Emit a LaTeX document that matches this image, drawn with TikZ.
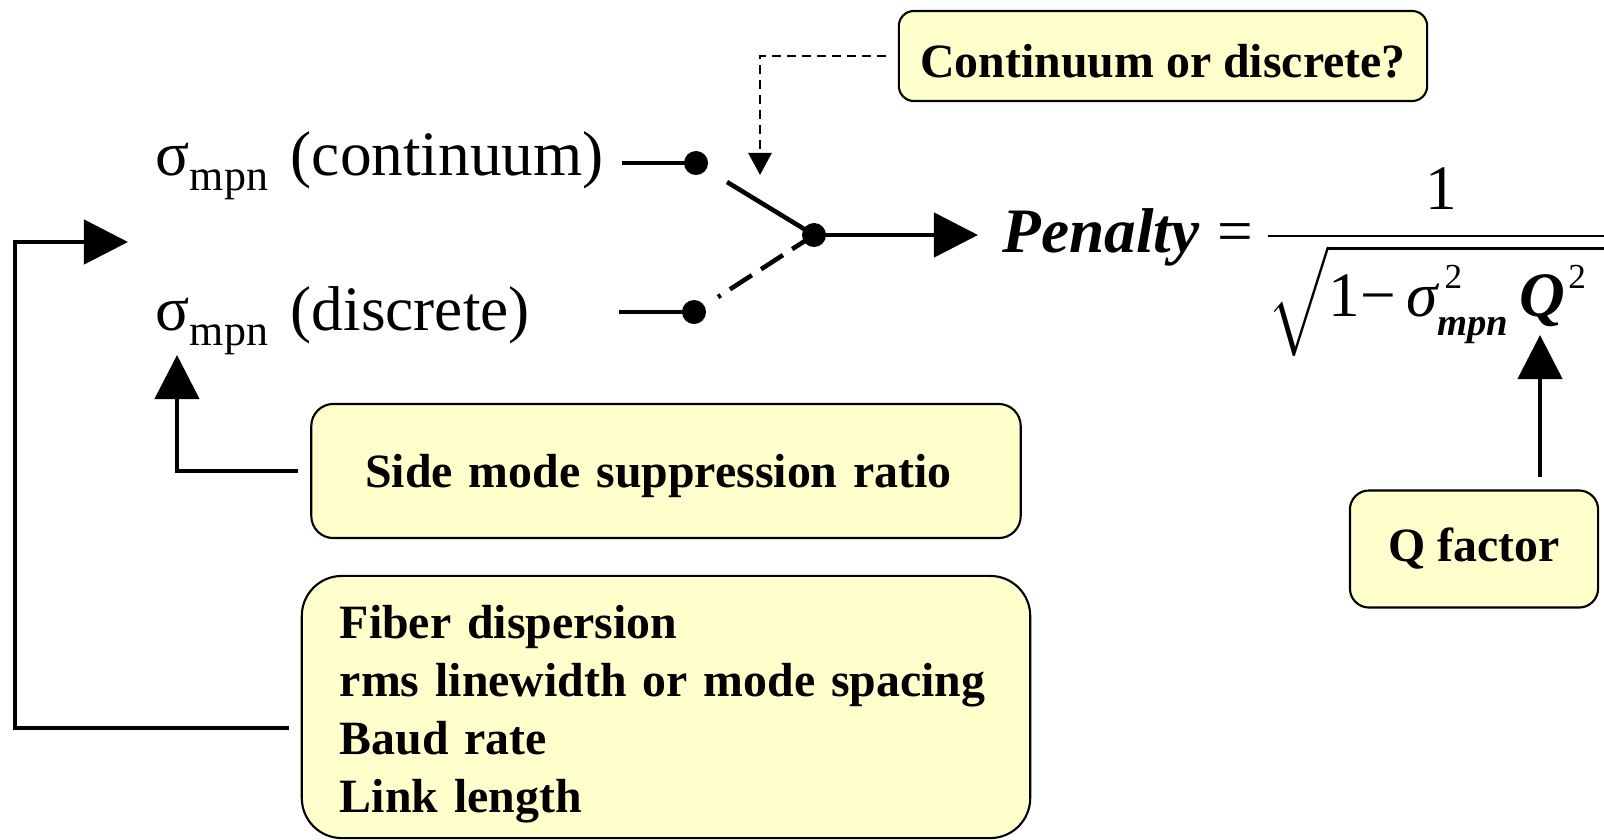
\RequirePackage{fix-cm}
\documentclass[tikz,border=0pt]{standalone}
\usepackage{amsmath}
\usepackage{fontspec}
\setmainfont{Liberation Serif}
\usepackage{tikz}
\usetikzlibrary{arrows.meta}
\usepackage{xcolor}
\definecolor{notefill}{HTML}{FFFFCC}

\begin{document}
\begin{tikzpicture}[x=0.01cm,y=-0.01cm,
        infobox/.style={draw=black, fill=notefill, line width=0.6pt, inner sep=0pt, outer sep=0.13cm,
            font=\fontsize{13.6}{16.5}\selectfont\bfseries},
        sigtext/.style={anchor=base west, inner sep=0pt, font=\fontsize{18}{22}\selectfont},
        thickline/.style={line width=1.3pt},
        bigarrow/.style={thickline, -{Triangle[length=0.44cm,width=0.44cm]}},
        dashline/.style={line width=0.7pt, dash pattern=on 0.09cm off 0.06cm, -{Triangle[length=0.22cm,width=0.23cm]}},
        contact/.style={circle, fill=black, inner sep=0pt, minimum size=0.24cm}]
        \useasboundingbox (0,0) rectangle (1604,839);
        % mpn labels
        \node[sigtext] (sigc) at (155,175) {σ\raisebox{-0.15cm}{\fontsize{12.5}{14}\selectfont mpn}\kern2pt\ (continuum)};
        \node[sigtext] (sigd) at (155,330) {σ\raisebox{-0.15cm}{\fontsize{12.5}{14}\selectfont mpn}\kern2pt\ (discrete)};

        % switch
        \node[contact] (ctop) at (696,163) {};
        \node[contact] (cbot) at (694,312) {};
        \node[contact] (piv) at (814,235) {};
        \coordinate (levtop) at (727,182);
        \coordinate (levbot) at (718,297);
        \draw[thickline] (ctop.center) -- ++(-74,0);
        \draw[thickline] (cbot.center) -- ++(-75,0);
        \draw[thickline] (levtop) -- (piv.center);
        \draw[thickline, dash pattern=on 0.26cm off 0.11cm] (piv.center) -- (levbot);

        % question box
        \node[infobox, minimum width=5.28cm, minimum height=0.9cm, rounded corners=0.15cm,
            text height=0.42cm, text depth=0pt] (qsel) at (1163,56) {Continuum or discrete?};
        \coordinate (swtop) at (760,175);
        \draw[dashline] (qsel.west) -| (swtop);

        % penalty formula
        \node[anchor=base west, inner sep=0pt, font=\fontsize{18}{22}\selectfont] (pen) at (1002,252)
            {$\text{\bfseries\itshape Penalty}\mkern5mu\text{=}\mkern3mu\dfrac{\text{1}}{\sqrt{\text{1−\,\itshape σ\rlap{\kern2pt\raisebox{0.45em}{\fontsize{10}{10}\selectfont\upshape 2}}\raisebox{-0.3em}{\fontsize{11}{11}\selectfont\bfseries mpn}\,\bfseries Q\raisebox{0.45em}{\fontsize{10}{10}\selectfont\mdseries\upshape\kern1pt 2}\kern8pt}}}$};
        \draw[bigarrow, shorten >=0.24cm] (piv.center) -- (piv -| pen.west);

        % Q factor
        \node[infobox, minimum width=2.48cm, minimum height=1.17cm, rounded corners=0.19cm] (qf) at (1474,549) {Q factor};
        \coordinate (qtip) at (1540,335);
        \draw[bigarrow] (qtip |- qf.north) -- (qtip);

        % side mode suppression
        \node[infobox, minimum width=7.09cm, minimum height=1.34cm, rounded corners=0.22cm,
            text width=6.01cm, align=left, text height=0.32cm, text depth=0pt] (smsr) at (666,471) {Side mode suppression ratio};
        \coordinate (smsrtip) at (177,355);
        \draw[bigarrow] (smsr.west) -| (smsrtip);

        % link parameters
        \node[infobox, minimum width=7.28cm, minimum height=2.62cm, rounded corners=0.4cm,
            text width=6.52cm, inner xsep=0.38cm, align=left, text height=0.33cm, text depth=1.70cm] (par) at (666,707)
            {Fiber dispersion\\ rms linewidth or mode spacing\\ Baud rate\\ Link length};
        \coordinate (fbcorner) at (15,242);
        \coordinate (fbtip) at (128,242);
        \draw[bigarrow] ([yshift=-0.21cm]par.west) -| (fbcorner) -- (fbtip);
\end{tikzpicture}
\end{document}
